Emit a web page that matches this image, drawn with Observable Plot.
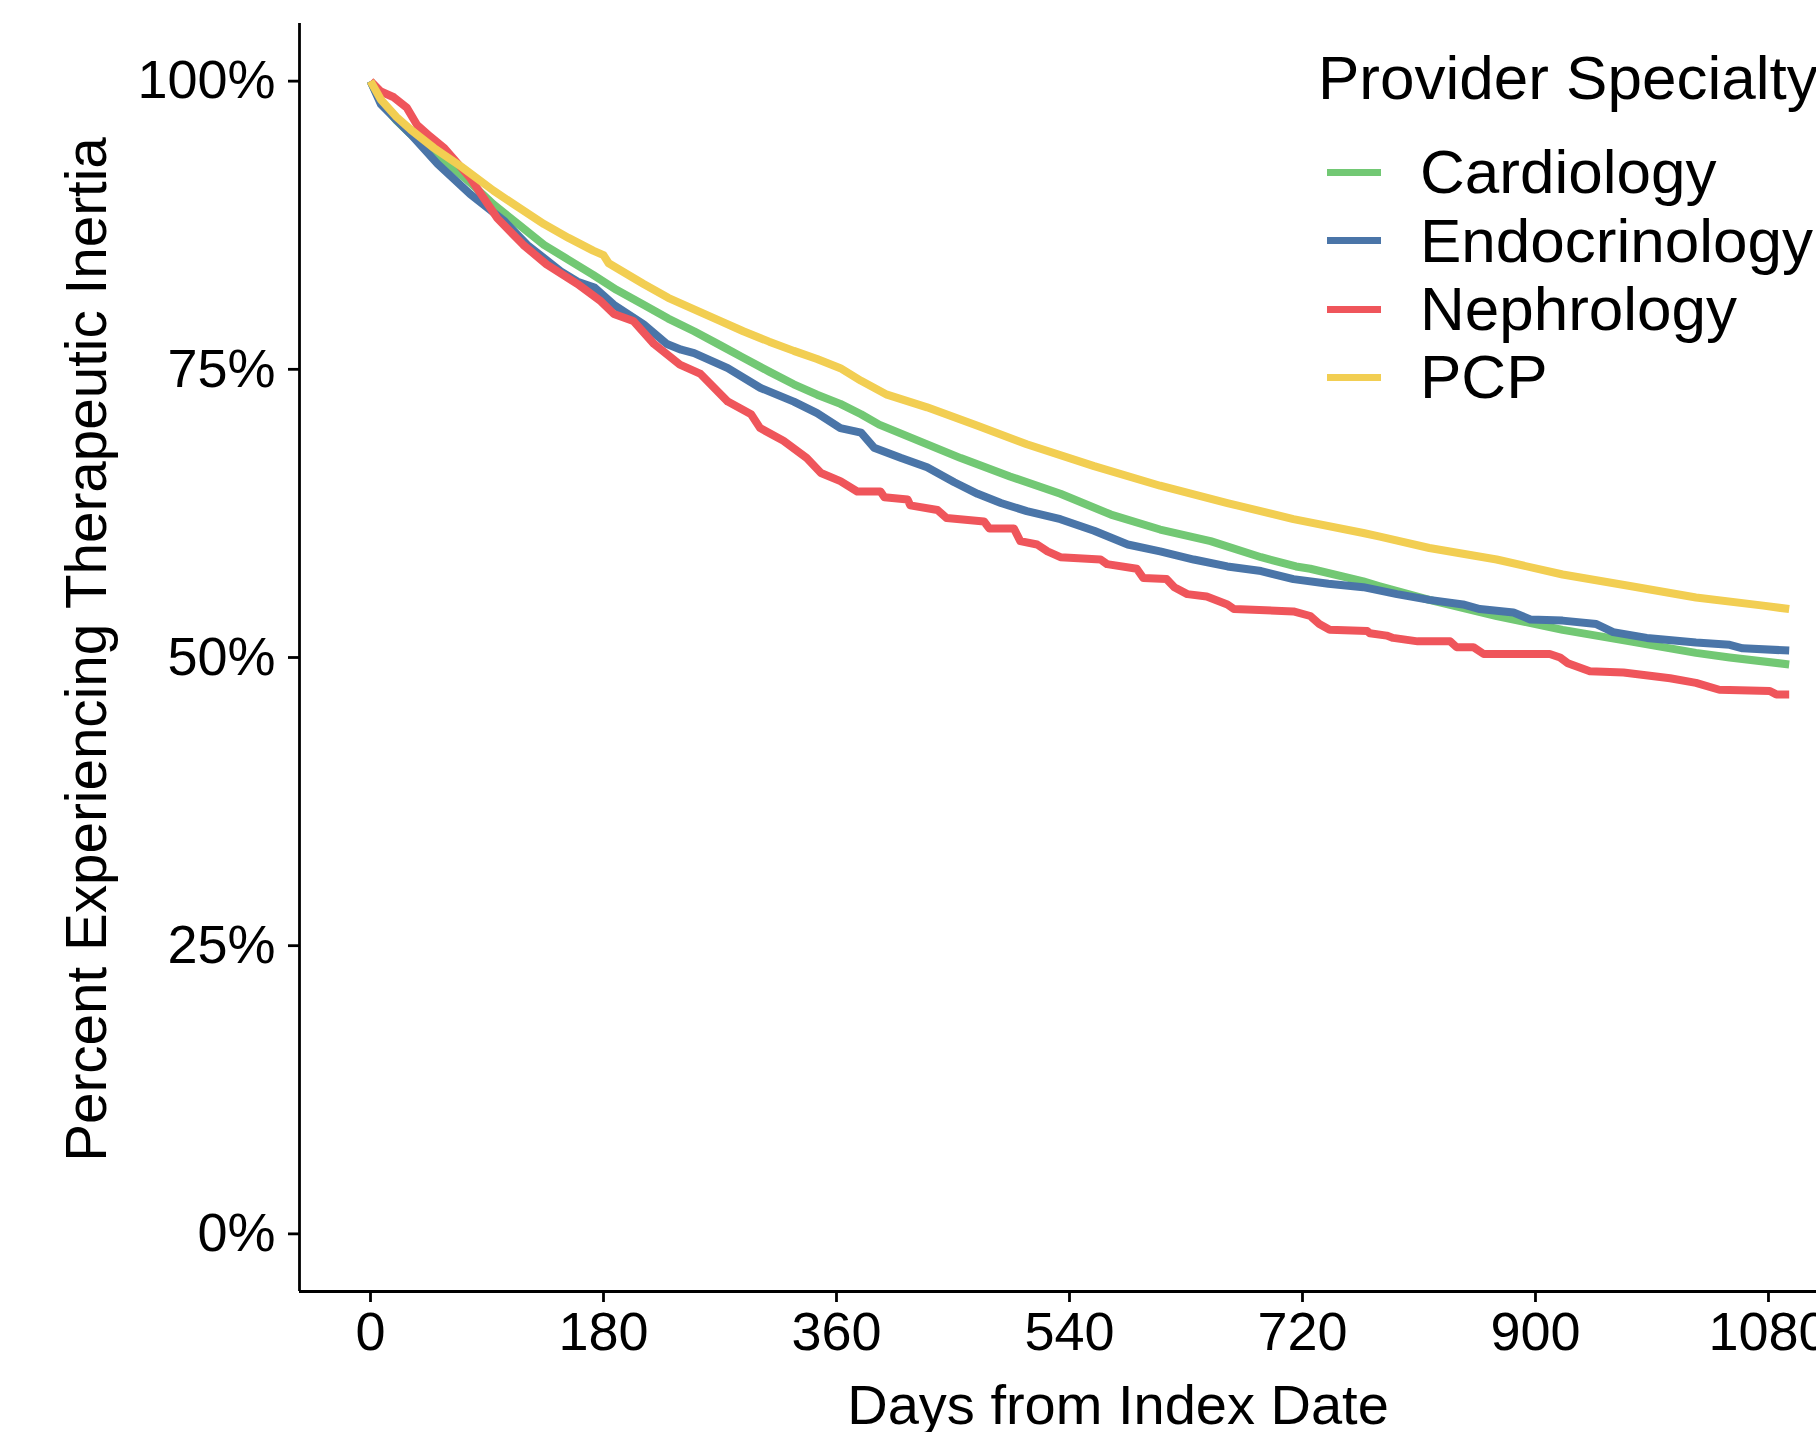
<!DOCTYPE html>
<html>
<head>
<meta charset="utf-8">
<script src="https://cdn.jsdelivr.net/npm/d3@7"></script>
<script src="https://cdn.jsdelivr.net/npm/@observablehq/plot@0.6"></script>
<style>
  html, body { margin: 0; padding: 0; background: white; overflow: hidden; }
  #wrap { position: relative; width: 1816px; height: 1432px; overflow: hidden; background: white; font-family: "Liberation Sans", Arial, Helvetica, sans-serif; }
  #legend { position: absolute; left: 1318px; top: 0; white-space: nowrap; color: black; }
  #legend .title { position: absolute; left: 0; top: 46.5px; font-size: 62px; line-height: 62px; }
  #legend .row { position: absolute; left: 9px; height: 68.3px; line-height: 68.3px; font-size: 62px; display: flex; align-items: center; }
  #legend .key { width: 54px; height: 7px; margin-right: 39px; }
</style>
</head>
<body>
<div id="wrap"></div>
<script>
// ---- data ----
const categories = ["Cardiology", "Endocrinology", "Nephrology", "PCP"];
const colors = ["#72C874", "#4A75A8", "#EF555B", "#F2CE52"];
const legendTitle = "Provider Specialty";
const xTitle = "Days from Index Date";
const yTitle = "Percent Experiencing Therapeutic Inertia";
const xTicks = [0, 180, 360, 540, 720, 900, 1080];
const yTicks = [0, 25, 50, 75, 100];

const cardiology = [[0,100],[8,98.2],[20,96.6],[31,95.4],[45,94.1],[57,93.1],[77,91.2],[95,89.3],[115,87.5],[134,85.8],[153,84.5],[172,83.2],[190,81.9],[211,80.6],[230,79.4],[250,78.3],[270,77.1],[288,76.0],[308,74.8],[327,73.7],[345,72.8],[363,72.0],[379,71.1],[393,70.2],[417,69.1],[456,67.3],[494,65.7],[533,64.2],[572,62.4],[610,61.1],[649,60.1],[688,58.7],[715,57.9],[726,57.7],[767,56.6],[779,56.2],[818,55.0],[870,53.6],[921,52.4],[973,51.4],[1024,50.4],[1050,50.0],[1096,49.4]];

const endocrinology = [[0,100],[8,98.0],[31,95.4],[52,92.8],[77,90.2],[103,87.9],[121,85.8],[147,83.5],[160,82.6],[173,82.1],[188,80.6],[211,78.9],[229,77.2],[240,76.7],[250,76.4],[276,75.1],[301,73.4],[327,72.2],[345,71.2],[363,69.9],[379,69.5],[389,68.2],[410,67.3],[430,66.5],[451,65.2],[469,64.2],[487,63.4],[507,62.7],[533,62.0],[559,61.0],[585,59.8],[610,59.2],[636,58.5],[662,57.9],[688,57.5],[713,56.8],[740,56.4],[767,56.1],[793,55.5],[818,55.0],[844,54.6],[857,54.2],[883,53.9],[896,53.3],[921,53.2],[947,52.9],[960,52.2],[986,51.7],[1024,51.3],[1050,51.1],[1060,50.8],[1096,50.6]];

const nephrology = [[0,100],[8,99.1],[18,98.6],[28,97.7],[36,96.2],[46,95.2],[57,94.2],[77,91.6],[98,88.1],[118,85.8],[136,84.1],[160,82.4],[178,80.9],[188,79.8],[203,79.2],[219,77.2],[239,75.4],[255,74.6],[276,72.2],[294,71.1],[301,69.9],[319,68.8],[337,67.3],[348,66.0],[363,65.3],[376,64.4],[394,64.4],[397,63.9],[415,63.7],[417,63.2],[438,62.8],[445,62.1],[474,61.8],[478,61.2],[497,61.2],[502,60.1],[515,59.8],[523,59.2],[533,58.7],[564,58.5],[569,58.1],[592,57.7],[597,56.9],[615,56.8],[621,56.1],[631,55.5],[646,55.3],[662,54.6],[667,54.2],[713,54.0],[726,53.6],[733,52.9],[741,52.4],[770,52.3],[772,52.1],[785,51.9],[790,51.7],[809,51.4],[834,51.4],[839,50.9],[852,50.9],[860,50.3],[911,50.3],[919,50.0],[925,49.5],[942,48.8],[968,48.7],[1004,48.2],[1024,47.8],[1042,47.2],[1081,47.1],[1086,46.8],[1096,46.8]];

const pcp = [[0,100],[8,98.4],[20,96.9],[31,95.8],[49,94.2],[70,92.6],[95,90.5],[115,89.0],[134,87.6],[153,86.4],[172,85.3],[180,84.9],[184,84.2],[211,82.4],[230,81.2],[250,80.2],[270,79.2],[288,78.3],[308,77.4],[327,76.6],[345,75.9],[363,75.1],[379,74.0],[399,72.8],[430,71.7],[469,70.1],[507,68.5],[559,66.6],[610,64.9],[662,63.4],[713,62.0],[767,60.8],[779,60.5],[818,59.5],[870,58.5],[921,57.2],[973,56.2],[1024,55.2],[1076,54.5],[1096,54.2]];

// ---- build table ----
const seriesList = [cardiology, endocrinology, nephrology, pcp];
const rows = [];
seriesList.forEach((s, i) => s.forEach(([day, pct]) => rows.push({specialty: categories[i], day, pct})));

const xDomain = [-54.85, 1117.1];
const yDomain = [-5, 105];
const font = '"Liberation Sans", Arial, Helvetica, sans-serif';

const chart = Plot.plot({
  width: 1816,
  height: 1432,
  marginLeft: 299,
  marginRight: 0,
  marginTop: 23,
  marginBottom: 141,
  style: {fontFamily: font, fontSize: "54px", color: "black", background: "white", overflow: "hidden"},
  x: {domain: xDomain},
  y: {domain: yDomain},
  color: {domain: categories, range: colors},
  marks: [
    Plot.line(rows, {x: "day", y: "pct", z: "specialty", stroke: "specialty", strokeWidth: 8, strokeLinejoin: "round", strokeLinecap: "butt"}),
    Plot.ruleY([yDomain[0]], {stroke: "black", strokeWidth: 2.8}),
    Plot.ruleX([xDomain[0]], {stroke: "black", strokeWidth: 2.8}),
    Plot.axisX({ticks: xTicks, tickFormat: d => String(d), tickSize: 11, tickPadding: 9, strokeWidth: 2.8, label: null, fontSize: 54}),
    Plot.axisY({ticks: yTicks, tickFormat: d => d + "%", tickSize: 11, tickPadding: 13, strokeWidth: 2.8, label: null, fontSize: 54}),
    Plot.text([xTitle], {text: d => d, frameAnchor: "bottom", textAnchor: "middle", lineAnchor: "middle", dx: 60, dy: 115, fontSize: 56, fill: "black"}),
    Plot.text([yTitle], {text: d => d, frameAnchor: "left", textAnchor: "middle", lineAnchor: "middle", rotate: -90, dx: -212, dy: -8, fontSize: 56.6, fill: "black"})
  ]
});

const wrap = document.getElementById("wrap");
wrap.appendChild(chart);

// ---- legend (HTML overlay, inside the panel like the reference) ----
const legend = d3.select(wrap).append("div").attr("id", "legend");
legend.append("div").attr("class", "title").text(legendTitle);
categories.forEach((c, i) => {
  const r = legend.append("div").attr("class", "row").style("top", (138.4 + i * 68.3) + "px");
  r.append("div").attr("class", "key").style("background", colors[i]);
  r.append("span").text(c);
});
</script>
</body>
</html>
